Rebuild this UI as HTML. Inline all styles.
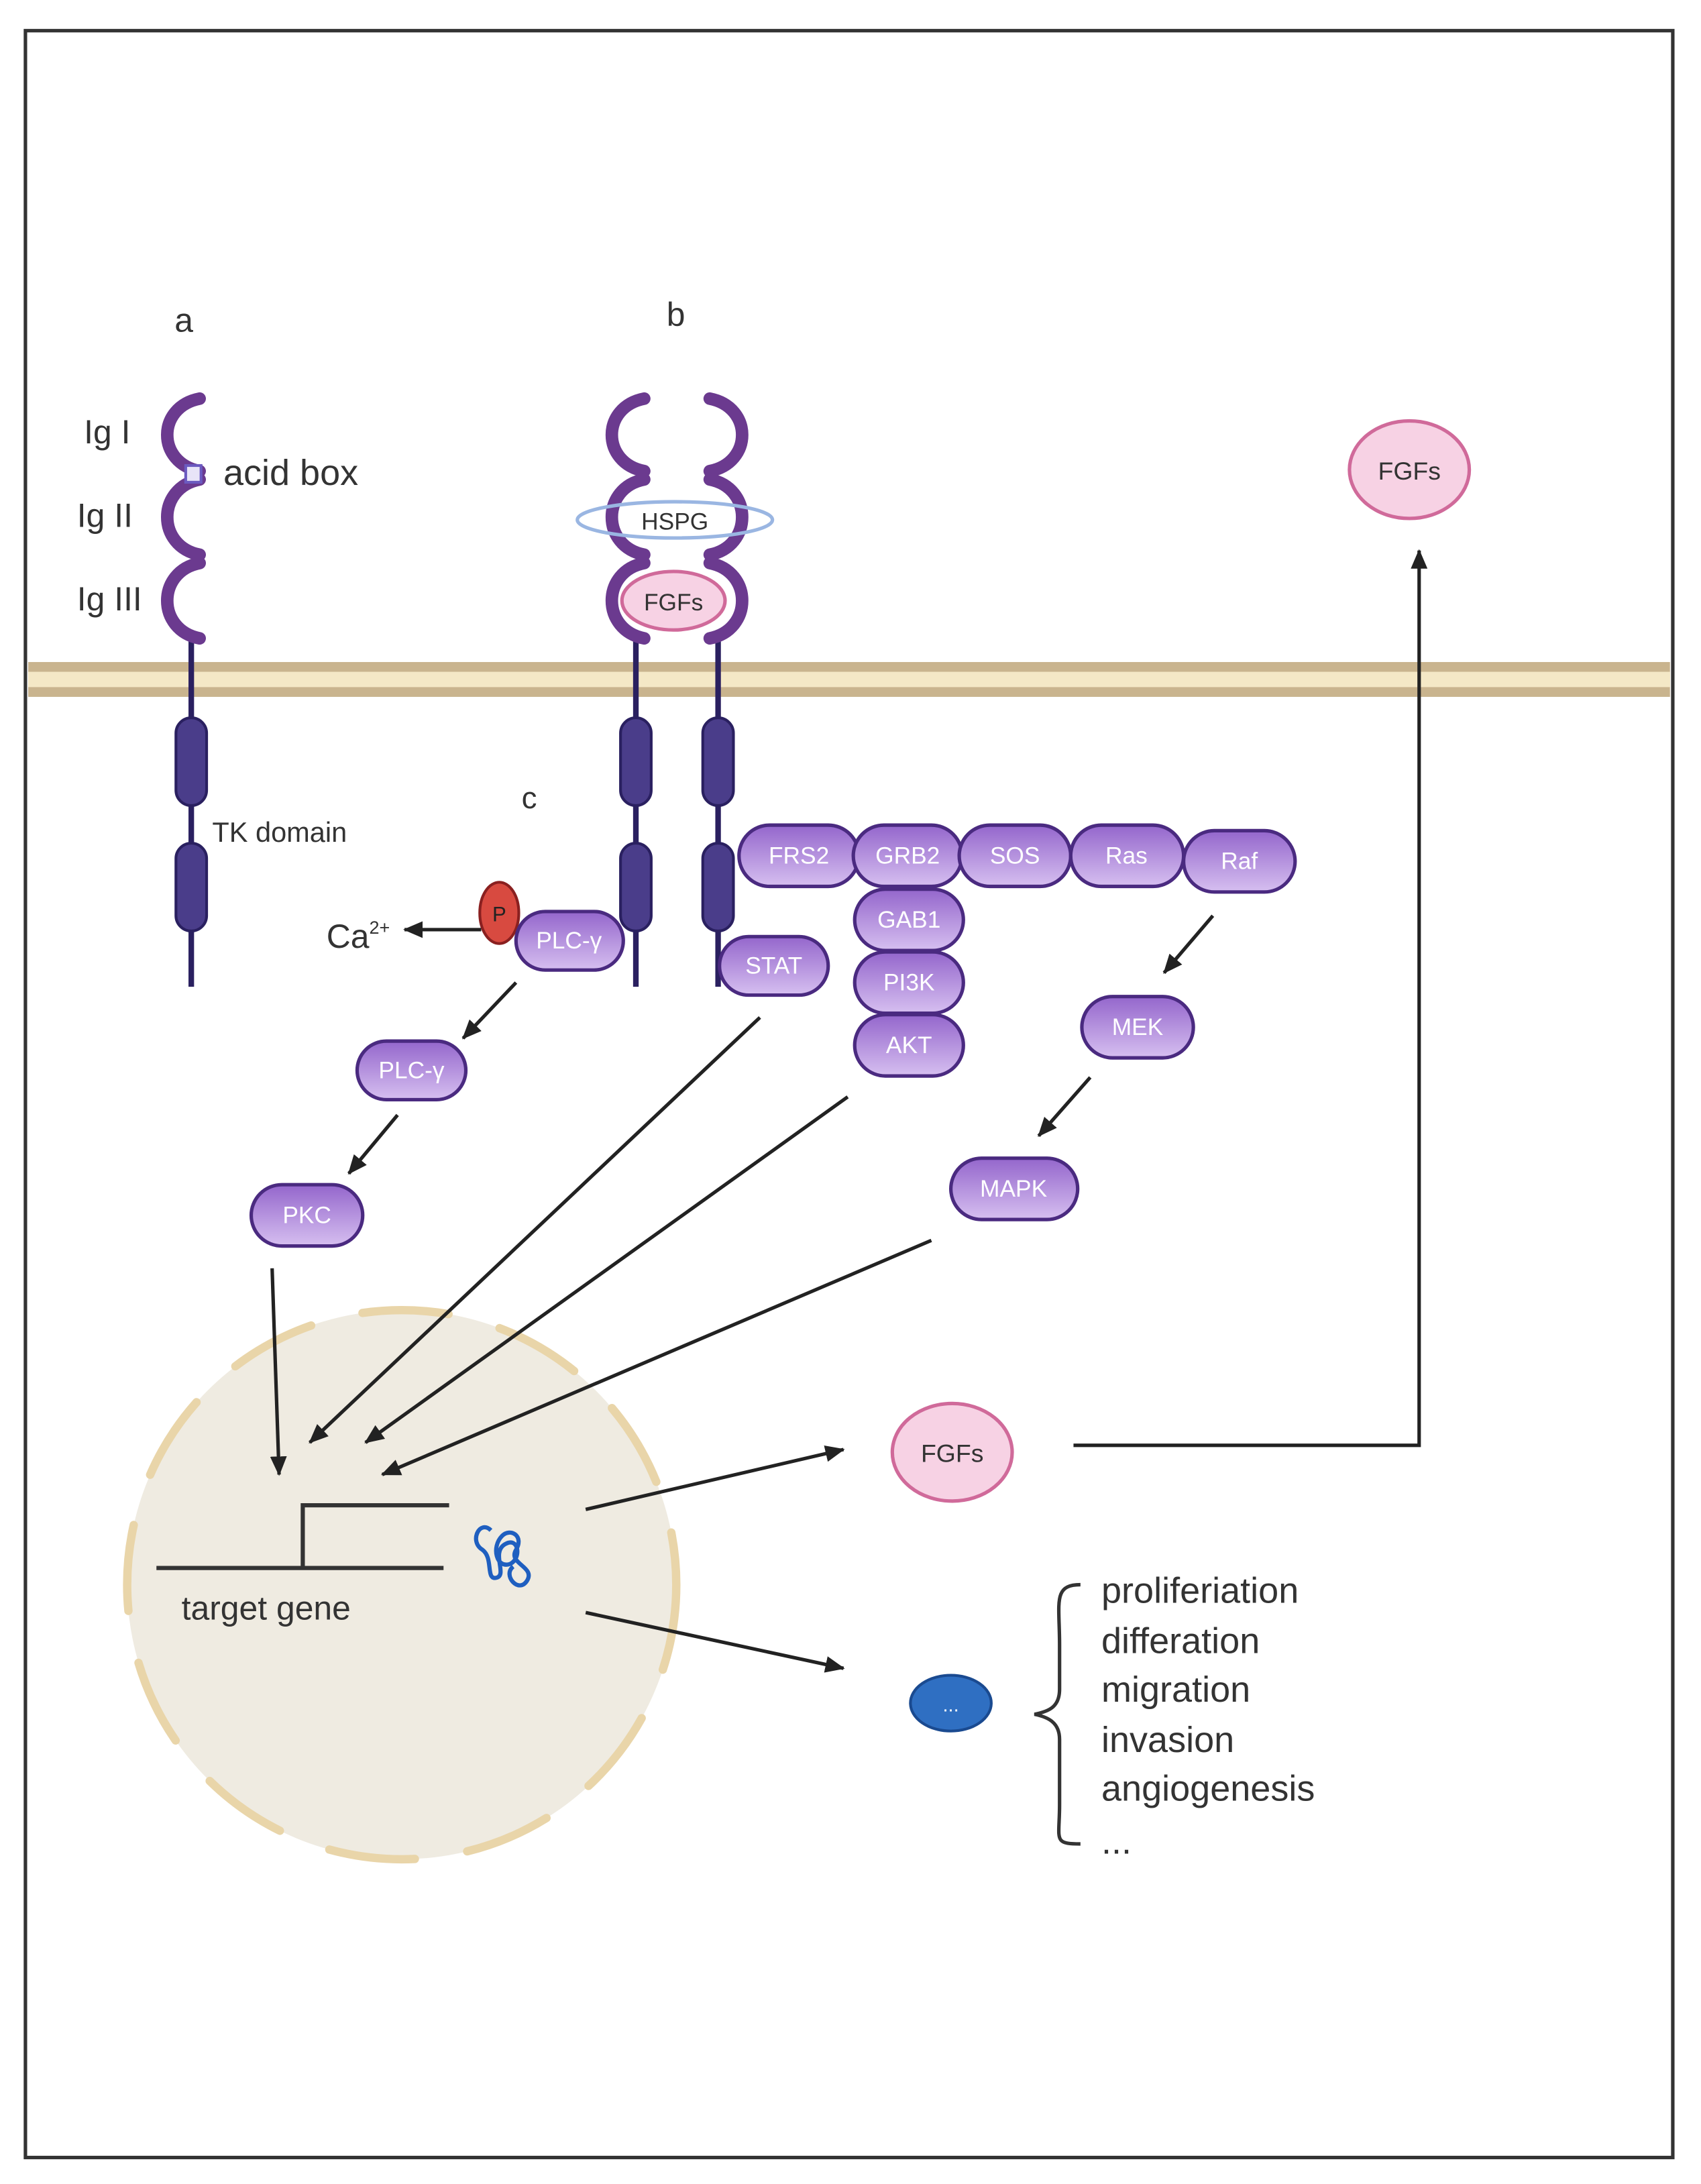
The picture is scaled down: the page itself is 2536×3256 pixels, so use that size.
<!DOCTYPE html>
<html><head><meta charset="utf-8"><style>
html,body{margin:0;padding:0;background:#fff}
svg{display:block}
text{font-family:"Liberation Sans",sans-serif}
.pt{fill:#fff;font-size:17px;text-anchor:middle;dominant-baseline:central}
.lb{fill:#333;font-size:24px}
</style></head><body>
<svg width="2536" height="3256" viewBox="0 0 1220 1567" xmlns="http://www.w3.org/2000/svg">
<defs>
<linearGradient id="pg" x1="0" y1="0" x2="0" y2="1"><stop offset="0" stop-color="#9466cc"/><stop offset="1" stop-color="#d6bff0"/></linearGradient>
<marker id="ah" markerWidth="14" markerHeight="12" refX="13" refY="6" orient="auto" markerUnits="userSpaceOnUse"><path d="M0,0 L14,6 L0,12 z" fill="#222"/></marker>
</defs>
<rect x="0" y="0" width="1220" height="1567" fill="#fff"/>
<rect x="18" y="22" width="1182" height="1526" fill="none" stroke="#333" stroke-width="2.5"/>
<!-- membrane -->
<rect x="20" y="475" width="1178" height="25" fill="#c9b48e"/>
<rect x="20" y="482" width="1178" height="11" fill="#f4e8c6"/>

<text x="125" y="238" font-size="24" fill="#333">a</text>
<text x="478" y="234" font-size="24" fill="#333">b</text>
<text x="374" y="580" font-size="22" fill="#333">c</text>
<text x="279" y="1283" font-size="24" fill="#333">d</text>

<!-- receptor a -->
<line x1="137" y1="455" x2="137" y2="708" stroke="#2a2060" stroke-width="4"/>
<g fill="none" stroke="#6b3a8f" stroke-width="9" stroke-linecap="round">
<path d="M143,286 C112,292 112,332 143,338"/>
<path d="M143,344 C112,350 112,392 143,398"/>
<path d="M143,404 C112,410 112,452 143,458"/>
</g>
<rect x="133" y="334" width="11" height="12" fill="#e8e4f8" stroke="#6b5ac0" stroke-width="2"/>
<rect x="126" y="515" width="22" height="63" rx="11" fill="#4a3d8a" stroke="#2a2060" stroke-width="2"/>
<rect x="126" y="605" width="22" height="63" rx="11" fill="#4a3d8a" stroke="#2a2060" stroke-width="2"/>
<text x="60" y="318" class="lb">Ig I</text>
<text x="55" y="378" class="lb">Ig II</text>
<text x="55" y="438" class="lb">Ig III</text>
<text x="160" y="348" font-size="26" fill="#333">acid box</text>
<text x="152" y="604" font-size="20" fill="#333">TK domain</text>

<!-- receptor b -->
<line x1="456" y1="455" x2="456" y2="708" stroke="#2a2060" stroke-width="4"/>
<line x1="515" y1="455" x2="515" y2="708" stroke="#2a2060" stroke-width="4"/>
<g fill="none" stroke="#6b3a8f" stroke-width="9" stroke-linecap="round">
<path d="M462,286 C431,292 431,332 462,338"/>
<path d="M462,344 C431,350 431,392 462,398"/>
<path d="M462,404 C431,410 431,452 462,458"/>
<path d="M509,286 C540,292 540,332 509,338"/>
<path d="M509,344 C540,350 540,392 509,398"/>
<path d="M509,404 C540,410 540,452 509,458"/>
</g>
<ellipse cx="484" cy="373" rx="70" ry="13" fill="none" stroke="#9ab6e2" stroke-width="2.5"/>
<text x="484" y="380" font-size="17" fill="#333" text-anchor="middle">HSPG</text>
<ellipse cx="483" cy="431" rx="37" ry="21" fill="#f7d2e4" stroke="#d06a9a" stroke-width="2.5"/>
<text x="483" y="438" font-size="17" fill="#333" text-anchor="middle">FGFs</text>
<g fill="#4a3d8a" stroke="#2a2060" stroke-width="2">
<rect x="445" y="515" width="22" height="63" rx="11"/>
<rect x="445" y="605" width="22" height="63" rx="11"/>
<rect x="504" y="515" width="22" height="63" rx="11"/>
<rect x="504" y="605" width="22" height="63" rx="11"/>
</g>

<!-- PLC / P / Ca -->
<ellipse cx="358" cy="655" rx="14" ry="22" fill="#d84a40" stroke="#8a2020" stroke-width="2"/>
<text x="358" y="661" font-size="15" fill="#222" text-anchor="middle">P</text>
<g stroke="#4a2a80" stroke-width="2.5" fill="url(#pg)">
<rect x="370" y="654" width="77" height="42" rx="21"/>
<rect x="530" y="592" width="86" height="44" rx="22"/>
<rect x="612" y="592" width="78" height="44" rx="22"/>
<rect x="688" y="592" width="80" height="44" rx="22"/>
<rect x="768" y="592" width="81" height="44" rx="22"/>
<rect x="849" y="596" width="80" height="44" rx="22"/>
<rect x="613" y="638" width="78" height="44" rx="22"/>
<rect x="613" y="683" width="78" height="44" rx="22"/>
<rect x="613" y="728" width="78" height="44" rx="22"/>
<rect x="516" y="672" width="78" height="42" rx="21"/>
<rect x="256" y="747" width="78" height="42" rx="21"/>
<rect x="180" y="850" width="80" height="44" rx="22"/>
<rect x="776" y="715" width="80" height="44" rx="22"/>
<rect x="682" y="831" width="91" height="44" rx="22"/>
</g>
<text x="408" y="675" class="pt">PLC-γ</text>
<text x="573" y="614" class="pt">FRS2</text>
<text x="651" y="614" class="pt">GRB2</text>
<text x="728" y="614" class="pt">SOS</text>
<text x="808" y="614" class="pt">Ras</text>
<text x="889" y="618" class="pt">Raf</text>
<text x="652" y="660" class="pt">GAB1</text>
<text x="652" y="705" class="pt">PI3K</text>
<text x="652" y="750" class="pt">AKT</text>
<text x="555" y="693" class="pt">STAT</text>
<text x="295" y="768" class="pt">PLC-γ</text>
<text x="220" y="872" class="pt">PKC</text>
<text x="816" y="737" class="pt">MEK</text>
<text x="727" y="853" class="pt">MAPK</text>

<text x="234" y="680" font-size="24" fill="#333">Ca<tspan font-size="13" dy="-10">2+</tspan></text>

<!-- nucleus -->
<circle cx="288" cy="1137" r="197" fill="#efebe1"/>
<circle cx="288" cy="1137" r="197" fill="none" stroke="#e9d5a9" stroke-width="6" stroke-dasharray="62 38" stroke-linecap="round"/>
<g stroke="#333" stroke-width="3" fill="none">
<line x1="112" y1="1125" x2="318" y2="1125"/>
<polyline points="217,1125 217,1080 322,1080"/>
</g>
<text x="130" y="1162" font-size="24" fill="#333">target gene</text>
<path d="M352,1098 c-8,-8 -16,8 -6,14 c8,6 2,22 10,20 c8,-2 -4,-18 6,-24 c10,-6 12,10 4,14 c-10,4 -14,-12 -6,-20 c6,-6 16,0 10,10 c-6,10 14,12 8,22 c-6,10 -18,-4 -10,-10" fill="none" stroke="#1f5fc0" stroke-width="3"/>

<!-- arrows -->
<g stroke="#222" stroke-width="2.5" fill="none" marker-end="url(#ah)">
<line x1="345" y1="667" x2="290" y2="667"/>
<line x1="370" y1="705" x2="332" y2="745"/>
<line x1="285" y1="800" x2="250" y2="842"/>
<line x1="870" y1="657" x2="835" y2="698"/>
<line x1="782" y1="773" x2="745" y2="815"/>
<line x1="195" y1="910" x2="200" y2="1058"/>
<line x1="545" y1="730" x2="222" y2="1035"/>
<line x1="608" y1="787" x2="262" y2="1035"/>
<line x1="668" y1="890" x2="274" y2="1058"/>
<line x1="420" y1="1083" x2="605" y2="1040"/>
<line x1="420" y1="1157" x2="605" y2="1197"/>
<polyline points="770,1037 1018,1037 1018,395"/>
</g>

<ellipse cx="683" cy="1042" rx="43" ry="35" fill="#f7d2e4" stroke="#d06a9a" stroke-width="2.5"/>
<text x="683" y="1049" font-size="18" fill="#333" text-anchor="middle">FGFs</text>
<ellipse cx="1011" cy="337" rx="43" ry="35" fill="#f7d2e4" stroke="#d06a9a" stroke-width="2.5"/>
<text x="1011" y="344" font-size="18" fill="#333" text-anchor="middle">FGFs</text>
<ellipse cx="682" cy="1222" rx="29" ry="20" fill="#2f6fc2" stroke="#1a4a90" stroke-width="2"/>
<text x="682" y="1228" font-size="14" fill="#fff" text-anchor="middle">...</text>

<path d="M775,1137 C755,1137 760,1150 760,1180 L760,1212 C760,1225 752,1228 742,1230 C752,1232 760,1236 760,1248 L760,1295 C760,1320 755,1323 775,1323" fill="none" stroke="#333" stroke-width="2.5"/>
<g font-size="26" fill="#333">
<text x="790" y="1150">proliferiation</text>
<text x="790" y="1186">differation</text>
<text x="790" y="1221">migration</text>
<text x="790" y="1257">invasion</text>
<text x="790" y="1292">angiogenesis</text>
<text x="790" y="1330">...</text>
</g>
</svg>
</body></html>
